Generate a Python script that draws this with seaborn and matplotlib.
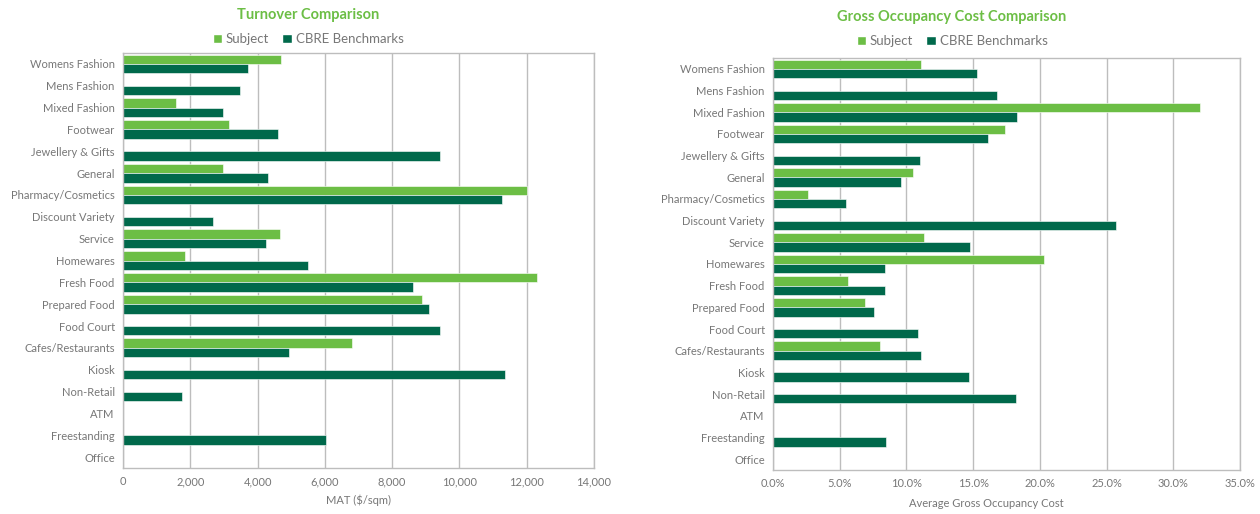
import numpy as np
import pandas as pd
import matplotlib
matplotlib.use("Agg")
import matplotlib.pyplot as plt
import seaborn as sns
from matplotlib.ticker import FuncFormatter, MultipleLocator
from matplotlib.patches import Patch

categories = ["Womens Fashion", "Mens Fashion", "Mixed Fashion", "Footwear",
              "Jewellery & Gifts", "General", "Pharmacy/Cosmetics", "Discount Variety",
              "Service", "Homewares", "Fresh Food", "Prepared Food", "Food Court",
              "Cafes/Restaurants", "Kiosk", "Non-Retail", "ATM", "Freestanding", "Office"]

nan = np.nan
turnover_subject = [4690, nan, 1580, 3150, nan, 2960, 12000, nan, 4680, 1850,
                    12310, 8880, nan, 6800, nan, nan, nan, nan, nan]
turnover_bench = [3710, 3490, 2960, 4610, 9420, 4310, 11260, 2680, 4250, 5500,
                  8610, 9110, 9420, 4930, 11350, 1760, nan, 6020, nan]

goc_subject = [0.111, nan, 0.320, 0.174, nan, 0.105, 0.026, nan, 0.113, 0.203,
               0.056, 0.069, nan, 0.080, nan, nan, nan, nan, nan]
goc_bench = [0.153, 0.168, 0.183, 0.161, 0.110, 0.096, 0.055, 0.257, 0.148, 0.084,
             0.084, 0.076, 0.109, 0.111, 0.147, 0.182, nan, 0.085, nan]

series_names = ["Subject", "CBRE Benchmarks"]
LIGHT = "#6CBE45"
DARK = "#00694B"
palette = {series_names[0]: LIGHT, series_names[1]: DARK}
GRAY_TXT = "#777777"
GRID = "#BDBDBD"

sns.set_style("white")
plt.rcParams["font.family"] = ["Lato", "DejaVu Sans"]

def long_df(subj, bench):
    rows = []
    for c, s, b in zip(categories, subj, bench):
        rows.append((c, series_names[0], s))
        rows.append((c, series_names[1], b))
    return pd.DataFrame(rows, columns=["Category", "Series", "Value"])

fig = plt.figure(figsize=(12.6, 5.14), dpi=100)
ax1 = fig.add_axes([123/1260, 1-468/514, (594-123)/1260, (468-53)/514])
ax2 = fig.add_axes([773/1260, 1-470/514, (1240-773)/1260, (470-58)/514])

def draw(ax, df, xmax, step, fmt, xlabel, xlabel_x, xlabel_y, title, title_x, title_y, leg_y):
    sns.barplot(data=df, y="Category", x="Value", hue="Series", hue_order=series_names,
                order=categories, palette=palette, orient="h", width=0.86,
                saturation=1, ax=ax, legend=False, edgecolor="white", linewidth=0.4)
    ax.set_xlim(0, xmax)
    ax.xaxis.set_major_locator(MultipleLocator(step))
    ax.xaxis.set_major_formatter(FuncFormatter(fmt))
    ax.set_axisbelow(True)
    ax.grid(axis="x", color=GRID, linewidth=1)
    ax.grid(axis="y", visible=False)
    for sp in ax.spines.values():
        sp.set_visible(True)
        sp.set_color(GRID)
        sp.set_linewidth(1)
    ax.tick_params(axis="both", length=0, labelsize=8, labelcolor=GRAY_TXT, pad=6)
    ax.set_ylabel("")
    ax.set_xlabel(xlabel, fontsize=8, color=GRAY_TXT)
    ax.xaxis.set_label_coords(xlabel_x, xlabel_y)
    fig.text(title_x, title_y, title, ha="center", va="center", fontsize=10.5,
             fontweight="bold", color=LIGHT)
    handles = [Patch(facecolor=palette[s], label=s) for s in series_names]
    fig.legend(handles=handles, loc="center", bbox_to_anchor=(title_x, leg_y), ncol=2,
               frameon=False, fontsize=9.5, labelcolor=GRAY_TXT, handlelength=0.7,
               handleheight=0.7, handletextpad=0.3, columnspacing=1.0)

draw(ax1, long_df(turnover_subject, turnover_bench), 14000, 2000,
     lambda v, p: f"{v:,.0f}", "MAT ($/sqm)", 0.5, -0.063, "Turnover Comparison",
     308/1260, 1-15/514, 1-39/514)
draw(ax2, long_df(goc_subject, goc_bench), 0.35, 0.05,
     lambda v, p: f"{v*100:.1f}%", "Average Gross Occupancy Cost", (986-773)/467, -0.068,
     "Gross Occupancy Cost Comparison", 952/1260, 1-17/514, 1-41/514)

fig.savefig("out.png", dpi=100)
